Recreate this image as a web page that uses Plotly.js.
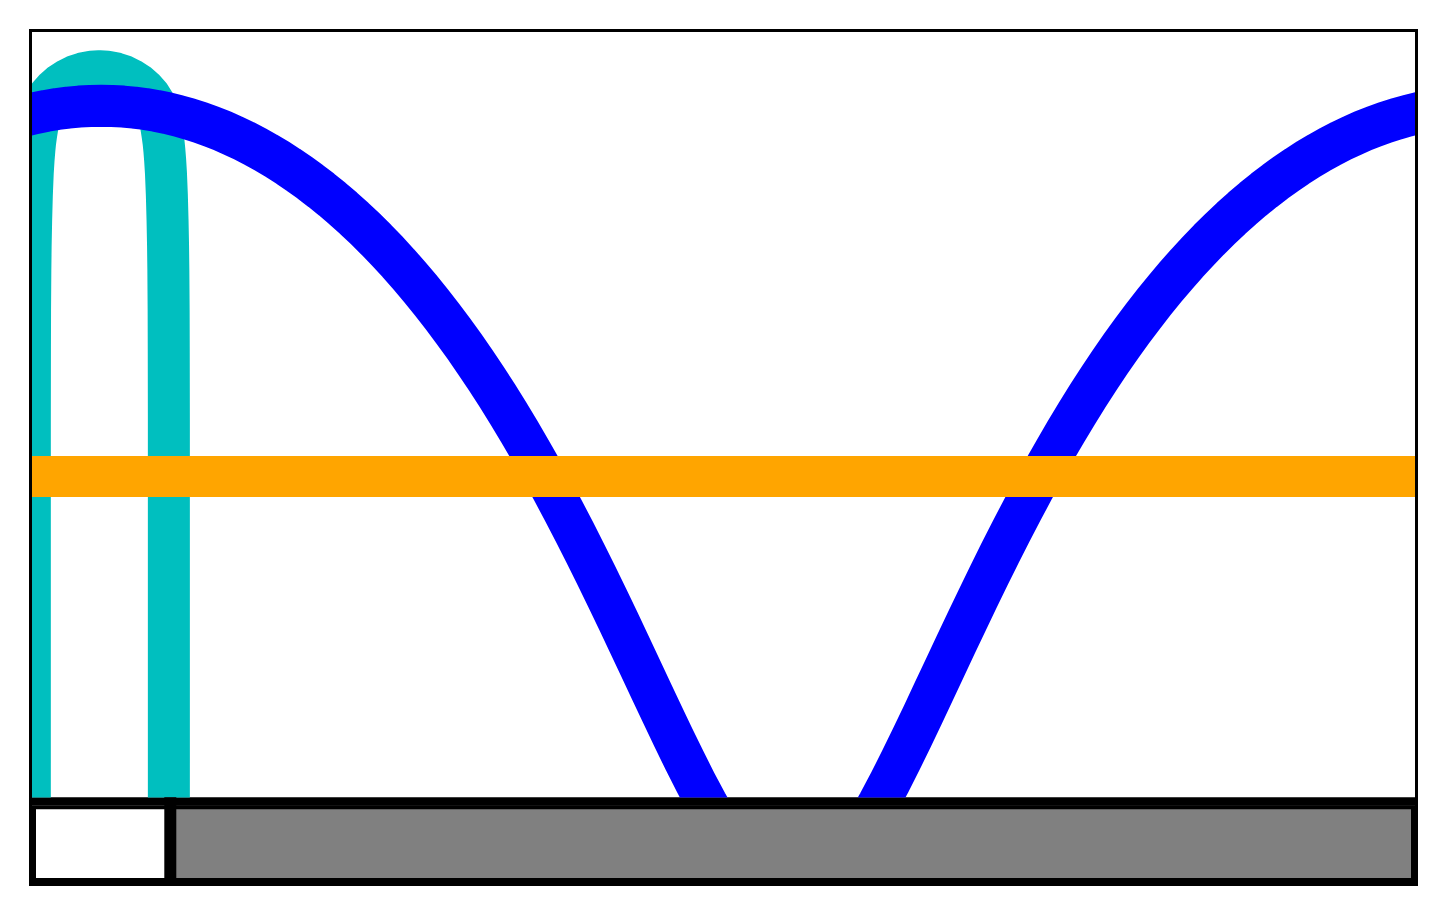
<!DOCTYPE html>
<html>
<head>
<meta charset="utf-8">
<script src="https://cdn.plot.ly/plotly-3.0.1.min.js"></script>
<style>
  html, body { margin: 0; padding: 0; background: #ffffff; }
  #chart { width: 1446px; height: 914px; }
</style>
</head>
<body>
<div id="chart"></div>
<script>
// ---- data ----
const xRange = [-0.31416, 5.96903];
const yRange = [-0.8657, 1.1988];

const blueX = [-0.35, -0.30, -0.25, -0.20, -0.15, -0.10, -0.05,
  0.00, 0.05, 0.10, 0.15, 0.20, 0.25, 0.30, 0.35, 0.40, 0.45, 0.50, 0.55, 0.60, 0.65, 0.70, 0.75,
  0.80, 0.85, 0.90, 0.95, 1.00, 1.05, 1.10, 1.15, 1.20, 1.25, 1.30, 1.35, 1.40, 1.45, 1.50, 1.55,
  1.60, 1.65, 1.70, 1.75, 1.80, 1.85, 1.90, 1.95, 2.00, 2.05, 2.10, 2.15, 2.20, 2.25, 2.30, 2.35,
  2.40, 2.45, 2.50, 2.55, 2.60, 2.65, 2.70, 2.75, 2.80, 2.85, 3.00, 3.1416,
  3.2832, 3.4332, 3.4832, 3.5332, 3.5832, 3.6332, 3.6832, 3.7332, 3.7832, 3.8332, 3.8832, 3.9332,
  3.9832, 4.0332, 4.0832, 4.1332, 4.1832, 4.2332, 4.2832, 4.3332, 4.3832, 4.4332, 4.4832, 4.5332,
  4.5832, 4.6332, 4.6832, 4.7332, 4.7832, 4.8332, 4.8832, 4.9332, 4.9832, 5.0332, 5.0832, 5.1332,
  5.1832, 5.2332, 5.2832, 5.3332, 5.3832, 5.4332, 5.4832, 5.5332, 5.5832, 5.6332, 5.6832, 5.7332,
  5.7832, 5.8332, 5.8832, 5.9332, 5.9832, 6.0332];
const blueY = [0.9726, 0.9799, 0.9860, 0.9910, 0.9949, 0.9977, 0.9993,
  0.9999, 0.9993, 0.9977, 0.9949, 0.9910, 0.9860, 0.9799, 0.9726, 0.9642, 0.9547, 0.9440, 0.9322,
  0.9192, 0.9051, 0.8897, 0.8732, 0.8554, 0.8365, 0.8162, 0.7948, 0.7720, 0.7480, 0.7226, 0.6960,
  0.6679, 0.6385, 0.6077, 0.5755, 0.5418, 0.5067, 0.4701, 0.4320, 0.3923, 0.3511, 0.3083, 0.2639,
  0.2179, 0.1703, 0.1211, 0.0702, 0.0178, -0.0363, -0.0919, -0.1490, -0.2074, -0.2672, -0.3282,
  -0.3901, -0.4528, -0.5160, -0.5793, -0.6423, -0.7045, -0.7654, -0.8242, -0.8802, -0.9325, -0.9802,
  -1.0870, -1.1220,
  -1.0870, -0.9802, -0.9325, -0.8802, -0.8242, -0.7654, -0.7045, -0.6423, -0.5793, -0.5160, -0.4528,
  -0.3901, -0.3282, -0.2672, -0.2074, -0.1490, -0.0919, -0.0363, 0.0178, 0.0702, 0.1211, 0.1703,
  0.2179, 0.2639, 0.3083, 0.3511, 0.3923, 0.4320, 0.4701, 0.5067, 0.5418, 0.5755, 0.6077, 0.6385,
  0.6679, 0.6960, 0.7226, 0.7480, 0.7720, 0.7948, 0.8162, 0.8365, 0.8554, 0.8732, 0.8897, 0.9051,
  0.9192, 0.9322, 0.9440, 0.9547, 0.9642, 0.9726, 0.9799, 0.9860];

const cyanX = [-0.3240, -0.3240, -0.3240, -0.3235, -0.3230, -0.3217, -0.3203, -0.3180, -0.3149, -0.3108,
  -0.3071, -0.3035, -0.2999, -0.2953, -0.2894, -0.2822, -0.2717, -0.2572, -0.2372, -0.2122,
  -0.1840, -0.1524, -0.1186, -0.0827, -0.0459, -0.0082,
  0.0295, 0.0663, 0.1022, 0.1360, 0.1676, 0.1958, 0.2208, 0.2408, 0.2553, 0.2658,
  0.2730, 0.2789, 0.2835, 0.2871, 0.2907, 0.2944, 0.2985, 0.3016, 0.3039, 0.3053,
  0.3066, 0.3071, 0.3076, 0.3076, 0.3076];
const cyanY = [-1.1421, -0.0634, 0.1524, 0.3412, 0.4490, 0.5569, 0.6243, 0.6918, 0.7592, 0.8185,
  0.8536, 0.8805, 0.9021, 0.9218, 0.9442, 0.9660, 0.9873, 1.0073, 1.0262, 1.0429,
  1.0577, 1.0701, 1.0801, 1.0871, 1.0917, 1.0931,
  1.0917, 1.0871, 1.0801, 1.0701, 1.0577, 1.0429, 1.0262, 1.0073, 0.9873, 0.9660,
  0.9442, 0.9218, 0.9021, 0.8805, 0.8536, 0.8185, 0.7592, 0.6918, 0.6243, 0.5569,
  0.4490, 0.3412, 0.1524, -0.0634, -1.1421];

const orangeX = [-0.4, 6.4];
const orangeY = [0, 0];

// range-slider style strip: full extent and visible window
const sliderFull = [-0.31416, 62.5177];
const sliderWindow = [-0.31416, 5.96903];

// ---- traces ----
const traces = [
  { x: cyanX, y: cyanY, type: 'scatter', mode: 'lines', hoverinfo: 'skip',
    line: { color: '#00bfbf', width: 42, shape: 'linear', simplify: false } },
  { x: blueX, y: blueY, type: 'scatter', mode: 'lines', hoverinfo: 'skip',
    line: { color: '#0000ff', width: 42, shape: 'linear', simplify: false } },
  { x: orangeX, y: orangeY, type: 'scatter', mode: 'lines', hoverinfo: 'skip',
    line: { color: '#ffa500', width: 41, simplify: false } },
  { type: 'bar', orientation: 'h', xaxis: 'x2', yaxis: 'y2', hoverinfo: 'skip',
    y: [0, 0], width: [1, 1],
    base: [sliderFull[0], sliderWindow[1]],
    x: [sliderWindow[1] - sliderFull[0], sliderFull[1] - sliderWindow[1]],
    marker: { color: ['#ffffff', '#808080'], line: { color: '#000000', width: 8 } } }
];

const axisFrame = {
  showline: true, mirror: true, linecolor: '#000000', linewidth: 3,
  showgrid: false, zeroline: false, showticklabels: false, ticks: ''
};

const layout = {
  width: 1446, height: 914,
  margin: { l: 32, r: 31, t: 32, b: 32, pad: 0 },
  paper_bgcolor: '#ffffff',
  plot_bgcolor: 'rgba(0,0,0,0)',
  showlegend: false,
  barmode: 'overlay',
  xaxis: Object.assign({ range: xRange, domain: [0, 1], anchor: 'y' }, axisFrame),
  yaxis: Object.assign({ range: yRange, domain: [0.0994, 1], anchor: 'x' }, axisFrame),
  xaxis2: { range: sliderFull, domain: [0, 1], anchor: 'y2', visible: false },
  yaxis2: { range: [-0.5, 0.5], domain: [0, 0.0902], anchor: 'x2', visible: false },
  shapes: [
    { type: 'rect', xref: 'paper', yref: 'paper', layer: 'below',
      x0: -0.00217, x1: 1.00217, y0: -0.0047, y1: 0.0997,
      fillcolor: '#000000', line: { width: 0 } },
    { type: 'line', xref: 'x2', yref: 'paper', layer: 'above',
      x0: sliderWindow[1], x1: sliderWindow[1], y0: -0.0047, y1: 0.0997,
      line: { color: '#000000', width: 12 } }
  ]
};

Plotly.newPlot('chart', traces, layout, { staticPlot: true, displayModeBar: false }).then(function () {
  // round joins give a smooth outline for the very thick strokes
  document.querySelectorAll('.scatterlayer .js-line').forEach(function (p) {
    p.style.strokeLinejoin = 'round';
  });
});
</script>
</body>
</html>
